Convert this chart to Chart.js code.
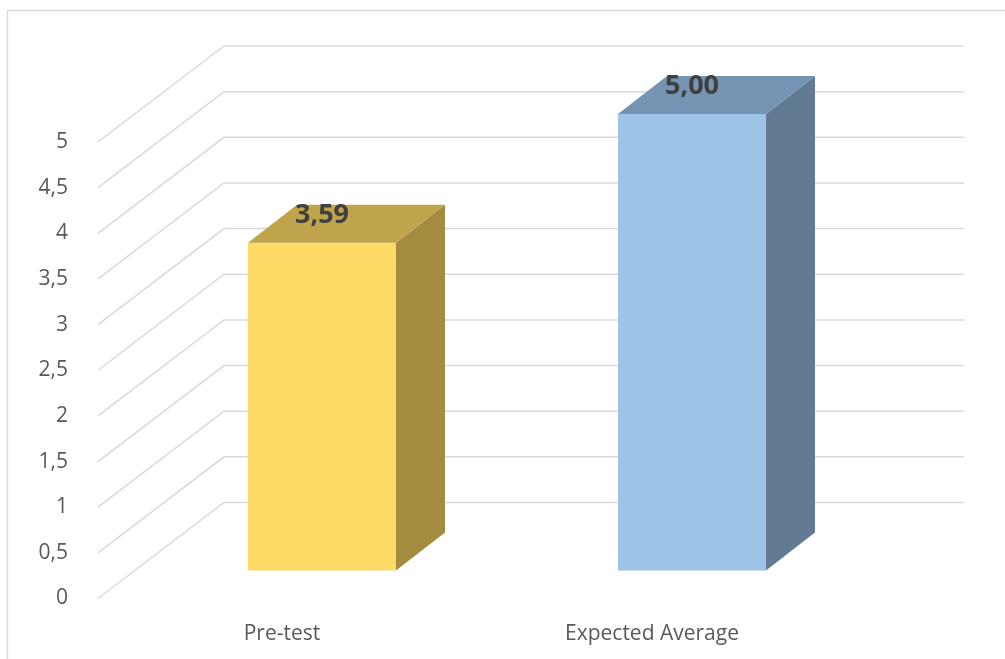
<!DOCTYPE html>
<html>
<head>
<meta charset="utf-8">
<script src="https://cdn.jsdelivr.net/npm/chart.js@4"></script>
<style>
  html, body { margin: 0; padding: 0; background: #fff; }
  #wrap { width: 1005px; height: 659px; }
</style>
</head>
<body>
<div id="wrap"><canvas id="chart"></canvas></div>
<script>
// data
const categories = ["Pre-test", "Expected Average"];
const values = [3.59, 5.0];
const valueLabels = ["3,59", "5,00"];
const yMin = 0;
const yMax = 5;
const yStep = 0.5;

// colours for the three faces of each box
const frontColors = ["#FFD966", "#9DC3E6"];
const topColors = ["#BFA44C", "#7594B3"];
const sideColors = ["#A38B3F", "#637A93"];

// 3d look: floor/back-wall offset and box depth
const WALL_DX = 127, WALL_DY = -96;
const BAR_DX = 40, BAR_DY = -28;
const BOX_DX = 49, BOX_DY = -38;

const depthPlugin = {
  id: "depth",
  beforeDatasetsDraw(chart) {
    const { ctx, chartArea, scales } = chart;
    const y = scales.y;
    ctx.save();
    ctx.strokeStyle = "#d9d9d9";
    ctx.lineWidth = 1.5;
    // outer frame
    ctx.strokeRect(7.5, 10.5, chart.width + 10, chart.height + 10);
    // side wall + back wall grid lines
    y.ticks.forEach((t) => {
      const py = y.getPixelForValue(t.value);
      ctx.beginPath();
      ctx.moveTo(chartArea.left + 1, py);
      ctx.lineTo(chartArea.left + WALL_DX, py + WALL_DY);
      ctx.lineTo(chartArea.right + WALL_DX, py + WALL_DY);
      ctx.stroke();
    });
    ctx.restore();
    // shift the boxes into the middle of the floor
    ctx.save();
    ctx.translate(BAR_DX, BAR_DY);
  },
  afterDatasetsDraw(chart) {
    const { ctx } = chart;
    const meta = chart.getDatasetMeta(0);
    meta.data.forEach((bar, i) => {
      const left = bar.x - bar.width / 2;
      const right = bar.x + bar.width / 2;
      // side face
      ctx.fillStyle = sideColors[i];
      ctx.beginPath();
      ctx.moveTo(right, bar.base);
      ctx.lineTo(right, bar.y);
      ctx.lineTo(right + BOX_DX, bar.y + BOX_DY);
      ctx.lineTo(right + BOX_DX, bar.base + BOX_DY);
      ctx.closePath();
      ctx.fill();
      // top face
      ctx.fillStyle = topColors[i];
      ctx.beginPath();
      ctx.moveTo(left, bar.y);
      ctx.lineTo(right, bar.y);
      ctx.lineTo(right + BOX_DX, bar.y + BOX_DY);
      ctx.lineTo(left + BOX_DX, bar.y + BOX_DY);
      ctx.closePath();
      ctx.fill();
    });
    ctx.restore();

    // value labels
    ctx.save();
    ctx.fillStyle = "#404040";
    ctx.font = "bold 27px 'Open Sans'";
    ctx.textAlign = "center";
    ctx.textBaseline = "alphabetic";
    meta.data.forEach((bar, i) => {
      ctx.fillText(valueLabels[i], bar.x + BAR_DX, bar.y + BAR_DY - 20);
    });
    ctx.restore();
  },
};

const ctx = document.getElementById("chart").getContext("2d");
new Chart(ctx, {
  type: "bar",
  data: {
    labels: categories,
    datasets: [
      {
        data: values,
        backgroundColor: frontColors,
        borderWidth: 0,
        categoryPercentage: 1,
        barPercentage: 0.4,
        clip: false,
      },
    ],
  },
  options: {
    responsive: true,
    maintainAspectRatio: false,
    animation: false,
    events: [],
    layout: { padding: { left: 0, top: 142, right: 168, bottom: 0 } },
    plugins: {
      legend: { display: false },
      tooltip: { enabled: false },
    },
    scales: {
      x: {
        grid: { display: false },
        border: { display: false },
        ticks: {
          color: "#595959",
          font: { family: "'Open Sans'", size: 21 },
          padding: 15,
        },
        afterFit: (scale) => {
          scale.height = 60.5;
        },
      },
      y: {
        min: yMin,
        max: yMax,
        grid: { display: false },
        border: { display: false },
        ticks: {
          stepSize: yStep,
          color: "#595959",
          font: { family: "'Open Sans'", size: 21 },
          padding: 21,
          callback: (v) => String(v).replace(".", ","),
        },
        afterFit: (scale) => {
          scale.width = 97;
        },
      },
    },
  },
  plugins: [depthPlugin],
});
</script>
</body>
</html>
